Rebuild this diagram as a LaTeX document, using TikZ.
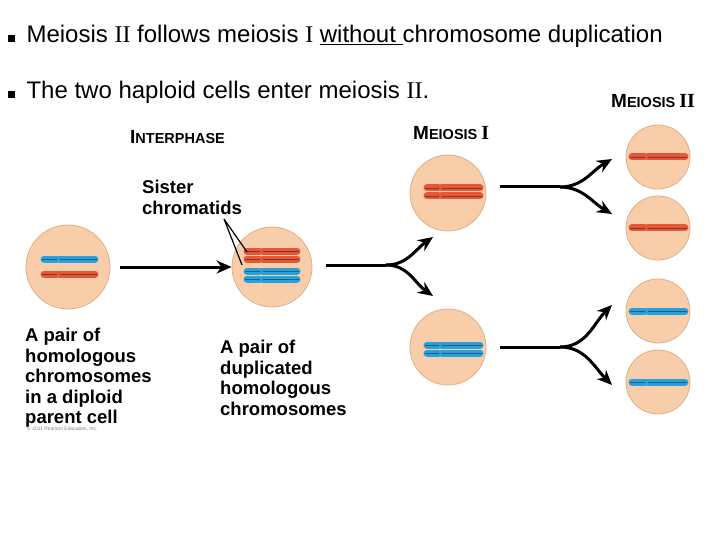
\documentclass[tikz,border=0pt]{standalone}
\usepackage{fontspec}
\setmainfont{Liberation Sans}
\newfontfamily\numfont{Liberation Serif}
\usetikzlibrary{arrows.meta}
\definecolor{cellfill}{RGB}{248,206,170}
\definecolor{celledge}{RGB}{225,175,135}
\definecolor{chred}{RGB}{228,88,58}
\definecolor{chblue}{RGB}{40,160,220}
\tikzset{cell/.style={circle,draw=celledge,fill=cellfill,line width=0.8pt},
  flow/.style={line width=3pt,-{Stealth[length=15pt,width=13pt]}},
  arm/.style={line width=3pt},
  lbl/.style={font=\bfseries\fontsize{18.5}{20.5}\selectfont,align=left,anchor=north west,inner sep=0pt}}
% one chromatid: x1 x2 y centromere colour
\newcommand{\chromatid}[5]{%
  \draw[line width=7pt,line cap=round,#5] (#1,#3) -- (#4-1.5,#3);
  \draw[line width=7pt,line cap=round,#5] (#4+1.5,#3) -- (#2,#3);
  \draw[line width=0.8pt,#5!60!black] (#1-2,#3) -- (#4-1.5,#3) (#4+1.5,#3) -- (#2+2,#3);}
\begin{document}
\begin{tikzpicture}[x=1pt,y=-1pt]
\useasboundingbox (0,0) rectangle (720,540);
% header
\node[anchor=west,font=\fontsize{24}{27}\selectfont] (line1) at (4,36)
  {\rule{7pt}{7pt}\hspace{12pt}Meiosis {\numfont II} follows meiosis {\numfont I} \underline{without }chromosome duplication};
\node[anchor=west,font=\fontsize{24}{27}\selectfont] (line2) at (4,92)
  {\rule{7pt}{7pt}\hspace{12pt}The two haploid cells enter meiosis {\numfont II}.};
\node[anchor=west,font=\bfseries\fontsize{14.5}{16}\selectfont,inner sep=0pt] (phase0) at (130,137) {{\fontsize{19}{20}\selectfont I}NTERPHASE};
\node[anchor=west,font=\bfseries\fontsize{14.5}{16}\selectfont,inner sep=0pt] (phase1) at (413,133) {{\fontsize{19}{20}\selectfont M}EIOSIS {\numfont\fontsize{20}{20}\selectfont I}};
\node[anchor=west,font=\bfseries\fontsize{14.5}{16}\selectfont,inner sep=0pt] (phase2) at (611,101) {{\fontsize{19}{20}\selectfont M}EIOSIS {\numfont\fontsize{20}{20}\selectfont II}};
% cells
\node[cell,minimum size=84pt] (parent) at (68,267) {};
\node[cell,minimum size=80pt] (inter) at (272,267) {};
\node[cell,minimum size=76pt] (mtop) at (448,193) {};
\node[cell,minimum size=76pt] (mbot) at (448,347) {};
\node[cell,minimum size=64pt] (d1) at (658,157) {};
\node[cell,minimum size=64pt] (d2) at (658,228) {};
\node[cell,minimum size=64pt] (d3) at (658,311) {};
\node[cell,minimum size=64pt] (d4) at (658,382) {};
% chromosomes
\chromatid{44}{95}{259}{58}{chblue}
\chromatid{44}{95}{274}{58}{chred}
\foreach \y/\c in {251/chred,259/chred,271/chblue,279/chblue}
  \chromatid{247}{297}{\y}{261}{\c};
\foreach \y in {188,196} \chromatid{427}{480}{\y}{440}{chred};
\foreach \y in {345,353} \chromatid{427}{480}{\y}{440}{chblue};
\foreach \y/\c in {157/chred,228/chred,311/chblue,382/chblue}
  \chromatid{632}{685}{\y}{646}{\c};
% connectors
\coordinate (fork0) at (386,265);
\coordinate (fork1) at (560,187);
\coordinate (fork2) at (560,347);
\coordinate (e1) at (433,237);
\coordinate (e2) at (433,296);
\coordinate (e3) at (612,159);
\coordinate (e4) at (612,214);
\coordinate (e5) at (612,305);
\coordinate (e6) at (612,385);
\draw[flow] (parent.east) ++(10,0) -- (inter.west);
\draw[arm] (inter.east) ++(14,-2) -- (fork0);
\draw[flow] (fork0) to[out=0,in=-145] (e1);
\draw[flow] (fork0) to[out=0,in=145] (e2);
\draw[arm] (mtop.east) ++(14,-6) -- (fork1);
\draw[flow] (fork1) to[out=0,in=-150] (e3);
\draw[flow] (fork1) to[out=0,in=150] (e4);
\draw[arm] (mbot.east) ++(14,0) -- (fork2);
\draw[flow] (fork2) to[out=0,in=-135] (e5);
\draw[flow] (fork2) to[out=0,in=135] (e6);
% labels
\node[lbl] (sister) at (142,180) {Sister\\chromatids};
\coordinate (tip) at (224,219);
\draw[line width=1.2pt] (tip) -- (247,252) (tip) -- (242,265);
\node[lbl] (pairA) at (25,328) {A pair of\\homologous\\chromosomes\\in a diploid\\parent cell};
\node[lbl] (pairB) at (220,340) {A pair of\\duplicated\\homologous\\chromosomes};
\node[anchor=west,font=\fontsize{5}{6}\selectfont,text=gray,inner sep=0pt] (copy) at (27,429) {© 2011 Pearson Education, Inc.};
\end{tikzpicture}
\end{document}
